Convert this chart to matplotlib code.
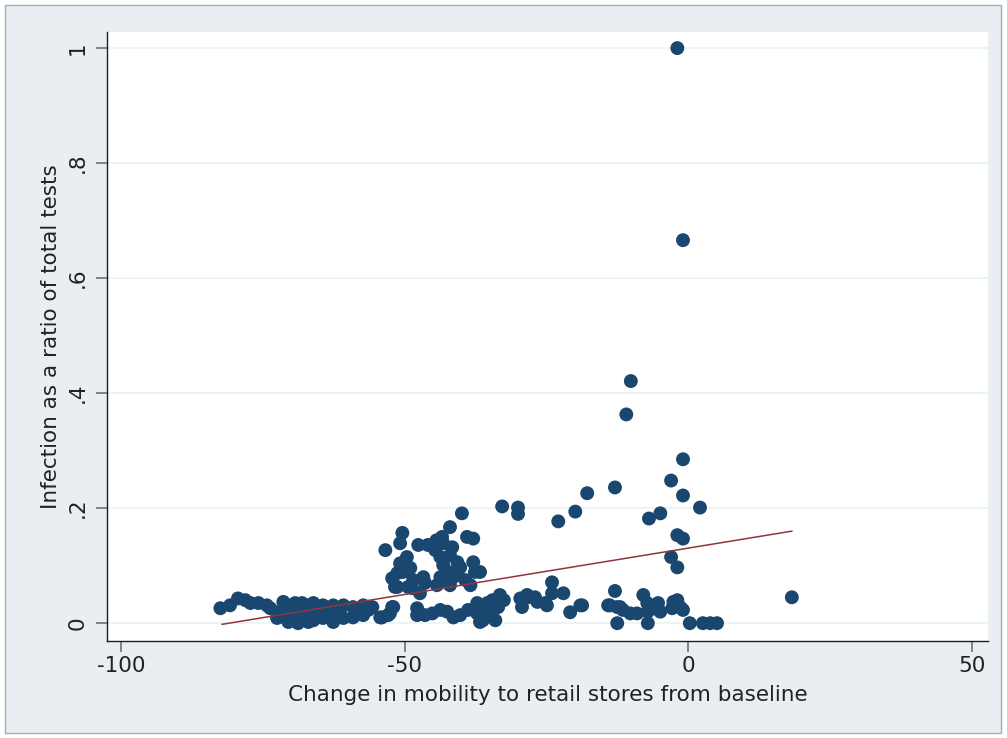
import matplotlib
matplotlib.use("Agg")
import matplotlib.pyplot as plt
from matplotlib.patches import Rectangle
import numpy as np

plt.rcParams['font.family'] = ['DejaVu Sans']
plt.rcParams['axes.unicode_minus'] = False

# scatter data: change in retail mobility vs infections / tests
mob_high = [-1.9, -0.9, -10.1, -10.9, -0.9, -3.0, -0.9, -12.9, -17.8, -19.9, -22.9,
            -4.9, -6.9, 2.1, -1.9, -0.9, -3.0, -1.9, -32.8, -30.0, -30.0, 18.3]
rat_high = [1.0, 0.666, 0.421, 0.363, 0.285, 0.248, 0.222, 0.236, 0.226, 0.194, 0.177,
            0.191, 0.182, 0.201, 0.153, 0.147, 0.115, 0.097, 0.203, 0.201, 0.190, 0.045]

mob_right = [-12.9, -13.8, -12.5, -11.5, -10.2, -9.0, -7.9, -7.2, -7.1, -5.3, -4.9, -2.8,
             -1.9, -0.9, -12.5, -7.1, 0.3, 2.6, 3.9, 5.1, -14.1, -12.0, -1.4, -2.6,
             -33.2, -29.6, -29.3, -28.4, -28.2, -27.0, -26.6, -25.2, -24.9, -24.0, -24.0,
             -22.0, -20.8, -19.0, -18.7]
rat_right = [0.056, 0.031, 0.028, 0.023, 0.017, 0.017, 0.049, 0.035, 0.020, 0.035, 0.020, 0.026,
             0.040, 0.023, 0.0, 0.0, 0.0, 0.0, 0.0, 0.0, 0.031, 0.028, 0.028, 0.037,
             0.049, 0.043, 0.028, 0.049, 0.045, 0.045, 0.037, 0.035, 0.031, 0.071, 0.052,
             0.052, 0.019, 0.031, 0.031]

mob_mid = [-39.9, -42.0, -50.4, -50.8, -53.4, -47.6, -45.9, -43.4, -43.2, -39.0, -37.9,
           -41.6, -44.6, -43.7, -42.0, -40.7, -49.6, -50.8, -51.3, -49.0, -50.3, -52.2,
           -51.7, -48.5, -48.7, -47.3, -46.7, -43.7, -42.3, -41.4, -40.2, -39.3, -42.0,
           -44.3, -46.4, -38.4, -37.6, -36.7, -37.9, -43.2, -40.7, -44.4,
           -55.7, -54.3, -52.9, -52.0, -47.8, -47.8, -46.4, -45.1, -43.7, -42.5, -41.4,
           -40.2, -38.8, -37.2, -36.7, -36.2, -35.8, -35.4, -37.2, -34.9, -34.0, -33.5,
           -32.5, -34.5, -54.0, -52.6, -52.2, -51.3, -49.4]
rat_mid = [0.191, 0.167, 0.157, 0.139, 0.127, 0.136, 0.136, 0.150, 0.139, 0.150, 0.147,
           0.132, 0.127, 0.115, 0.118, 0.106, 0.115, 0.104, 0.087, 0.096, 0.089, 0.078,
           0.063, 0.075, 0.061, 0.052, 0.080, 0.080, 0.089, 0.080, 0.097, 0.075, 0.066,
           0.066, 0.070, 0.066, 0.089, 0.089, 0.106, 0.101, 0.089, 0.144,
           0.028, 0.010, 0.014, 0.028, 0.026, 0.014, 0.014, 0.017, 0.023, 0.020, 0.010,
           0.014, 0.023, 0.017, 0.002, 0.005, 0.023, 0.035, 0.035, 0.014, 0.005, 0.028,
           0.040, 0.040, 0.010, 0.017, 0.028, 0.063, 0.063]

mob_left = [-82.5, -80.8, -79.4, -78.1, -77.2, -75.8, -74.3, -73.7, -71.4, -70.5, -69.3,
            -68.1, -67.0, -72.3, -71.1, -69.8, -68.8, -67.5, -66.3, -72.5, -70.5, -68.8,
            -67.0, -67.9, -66.1, -64.4, -62.6, -60.8, -59.1, -57.3, -56.4, -67.9, -66.1,
            -64.4, -62.6, -60.8, -59.1, -57.3, -65.5, -63.5, -61.5, -58.5, -70.0, -68.0]
rat_left = [0.026, 0.031, 0.043, 0.040, 0.035, 0.035, 0.031, 0.026, 0.037, 0.031, 0.035,
            0.035, 0.031, 0.019, 0.010, 0.009, 0.010, 0.014, 0.017, 0.009, 0.002, 0.0,
            0.002, 0.031, 0.035, 0.031, 0.031, 0.031, 0.028, 0.031, 0.023, 0.009, 0.005,
            0.009, 0.002, 0.009, 0.010, 0.014, 0.020, 0.017, 0.020, 0.020, 0.020, 0.022]

mobility = mob_high + mob_right + mob_mid + mob_left
ratio = rat_high + rat_right + rat_mid + rat_left

# fitted line endpoints
fit_x = [-82.2, 18.3]
fit_y = [-0.002, 0.160]

xticks = [-100, -50, 0, 50]
yticks = [0, 0.2, 0.4, 0.6, 0.8, 1.0]
ytick_labels = ['0', '.2', '.4', '.6', '.8', '1']

fig = plt.figure(figsize=(10.07, 7.38), dpi=100, facecolor='white')
# outer graph region (drawn behind the axes)
fig.patches.append(Rectangle((5 / 1007, 5 / 738), 996 / 1007, 728 / 738,
                             transform=fig.transFigure, facecolor='#e8eef1',
                             edgecolor='#a8acae', linewidth=1.0, zorder=-10))

ax = fig.add_axes([107 / 1007, 1 - 641 / 738, 881 / 1007, 609 / 738])
ax.set_facecolor('white')

ax.scatter(mobility, ratio, s=100, color='#1a476f', edgecolors='none', zorder=3)
ax.plot(fit_x, fit_y, color='#90353b', linewidth=1.1, zorder=4)

ax.set_xlim(-102.5, 52.9)
ax.set_ylim(-0.031, 1.028)
ax.set_xticks(xticks)
ax.set_yticks(yticks)
ax.set_yticklabels(ytick_labels, rotation=90, va='center')

ax.grid(axis='y', color='#eaf2f3', linewidth=1.2, zorder=0)
ax.set_axisbelow(True)

for s in ['top', 'right']:
    ax.spines[s].set_visible(False)
for s in ['left', 'bottom']:
    ax.spines[s].set_color('#1e1e1e')
    ax.spines[s].set_linewidth(1.0)

ax.tick_params(axis='both', direction='out', length=8, width=1.2, color='#707070',
               labelsize=15.5, labelcolor='#222222')
ax.tick_params(axis='x', pad=3)
ax.tick_params(axis='y', pad=6)

ax.set_xlabel('Change in mobility to retail stores from baseline', fontsize=15.5,
              color='#222222', labelpad=6)
ax.set_ylabel('Infection as a ratio of total tests', fontsize=15.5,
              color='#222222', labelpad=5)

fig.savefig('out.png', dpi=100, facecolor=fig.get_facecolor())
